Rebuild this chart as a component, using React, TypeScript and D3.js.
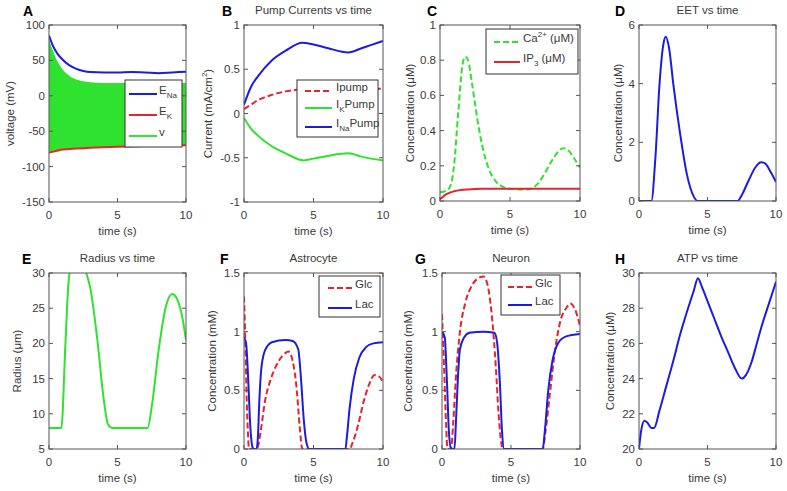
import React from 'react';
import * as d3 from 'd3';

type Pt = [number, number];

// ---------- DATA ----------
const timeTicks = [0, 5, 10];

// A: voltages (mV)
const eNa: Pt[] = [[0,85],[0.3,70],[0.6,60],[1,51],[1.5,43],[2,38],[2.5,35],[3,33.5],[4,33],[5,33],[6,33.5],[7,33],[8,32],[9,33],[10,34]];
const eK: Pt[] = [[0,-80],[0.5,-78],[1,-76],[2,-74.5],[3,-73.5],[5,-72],[7,-71],[10,-70]];
const vTime = [0,0.03,0.3,0.6,1,1.5,2,2.5,3,4,6,8,10];
const vUpper = [80,78,63,49,37,28,23,20.5,19,18,18,18,18];
const vLower = [-100,-78,-77.5,-77,-76,-75,-74.5,-74,-73.5,-72.5,-71.5,-71,-70];

// B: pump currents (mA/cm2)
const iPump: Pt[] = [[0,0.05],[0.5,0.1],[1,0.15],[2,0.21],[3,0.25],[4,0.27],[5,0.28],[7,0.28],[9,0.28],[10,0.28]];
const iKPump: Pt[] = [[0,-0.05],[0.5,-0.17],[1,-0.25],[2,-0.37],[3,-0.45],[4.3,-0.53],[5,-0.51],[6,-0.48],[7.5,-0.45],[8.5,-0.49],[10,-0.53]];
const iNaPump: Pt[] = [[0,0.1],[0.5,0.3],[1,0.42],[2,0.6],[3,0.71],[4.2,0.8],[5,0.78],[6,0.74],[7.5,0.69],[8.5,0.74],[10,0.82]];

// C: Ca2+ and IP3 (uM)
const ca: Pt[] = [[0,0.05],[0.5,0.06],[0.8,0.1],[1,0.2],[1.3,0.5],[1.6,0.77],[1.8,0.82],[2,0.8],[2.3,0.66],[2.7,0.45],[3,0.32],[3.5,0.18],[4,0.11],[4.5,0.08],[5,0.07],[6,0.065],[6.5,0.07],[7,0.1],[7.5,0.16],[8,0.23],[8.5,0.285],[8.8,0.3],[9.2,0.285],[9.6,0.24],[10,0.19]];
const ip3: Pt[] = [[0,0.01],[0.5,0.04],[1,0.055],[1.5,0.063],[2,0.066],[3,0.069],[5,0.07],[10,0.07]];

// D: EET (uM)
const eet: Pt[] = [[0,0],[0.9,0],[1.2,1.5],[1.5,4],[1.8,5.4],[1.95,5.6],[2.2,5.2],[2.5,4],[3,2.3],[3.5,0.9],[4,0.15],[4.3,0],[7.2,0],[7.5,0.2],[8,0.7],[8.5,1.15],[8.9,1.32],[9.2,1.28],[9.6,1],[10,0.65]];

// E: radius (um)
const radius: Pt[] = [[0,8],[0.9,8],[1.2,20],[1.4,28],[1.6,31],[2,32],[2.5,31],[2.8,29.5],[3,28],[3.5,21],[4,12],[4.3,8.5],[4.6,8],[7.2,8],[7.5,11],[8,19],[8.5,25],[9,27],[9.3,26.5],[9.7,24],[10,20.5]];

// F: Astrocyte (mM)
const astroGlc: Pt[] = [[0,1.3],[0.1,0.9],[0.2,0.4],[0.3,0.1],[0.35,0],[0.9,0],[1,0.02],[1.2,0.15],[1.5,0.4],[2,0.62],[2.5,0.75],[3,0.82],[3.2,0.83],[3.5,0.75],[3.8,0.5],[4,0.2],[4.2,0],[7.6,0],[7.8,0.05],[8.2,0.2],[8.6,0.4],[9,0.55],[9.4,0.63],[9.7,0.62],[10,0.57]];
const astroLac: Pt[] = [[0,0.95],[0.15,0.9],[0.3,0.6],[0.45,0.2],[0.6,0.02],[0.7,0],[0.9,0],[1,0.1],[1.1,0.4],[1.2,0.62],[1.4,0.8],[1.7,0.88],[2,0.91],[3,0.93],[3.5,0.92],[3.9,0.85],[4.1,0.6],[4.3,0.25],[4.5,0.05],[4.7,0],[7.3,0],[7.4,0.1],[7.6,0.35],[7.9,0.6],[8.3,0.78],[8.8,0.87],[9.3,0.9],[10,0.91]];

// G: Neuron (mM)
const neuGlc: Pt[] = [[0,1.15],[0.15,0.7],[0.3,0.2],[0.4,0],[0.65,0],[0.8,0.2],[1,0.6],[1.3,1],[1.7,1.25],[2.2,1.4],[2.7,1.46],[3,1.47],[3.3,1.4],[3.6,1.15],[3.9,0.7],[4.1,0.3],[4.3,0.05],[4.4,0],[7.3,0],[7.5,0.15],[7.8,0.45],[8.2,0.85],[8.6,1.1],[9,1.2],[9.3,1.24],[9.6,1.2],[10,1.05]];
const neuLac: Pt[] = [[0,1],[0.2,0.95],[0.35,0.6],[0.5,0.15],[0.65,0],[0.9,0],[1,0.2],[1.15,0.6],[1.3,0.85],[1.6,0.95],[2,0.99],[3,1],[3.8,0.99],[4,0.9],[4.2,0.55],[4.35,0.15],[4.5,0],[7.3,0],[7.45,0.15],[7.7,0.5],[8,0.75],[8.4,0.9],[9,0.96],[10,0.98]];

// H: ATP (uM)
const atp: Pt[] = [[0,20],[0.15,21],[0.4,21.6],[0.6,21.5],[0.9,21.2],[1.1,21.2],[1.5,22.2],[2,23.6],[2.5,25],[3,26.5],[3.5,27.8],[4,29],[4.3,29.7],[4.6,29.2],[5,28.4],[5.5,27.4],[6,26.4],[6.5,25.5],[7,24.6],[7.5,24],[7.8,24.2],[8.2,24.9],[8.6,26],[9,27.1],[9.5,28.3],[10,29.5]];

const ticksA = [-150, -100, -50, 0, 50, 100];
const ticksB = [-1, -0.5, 0, 0.5, 1];
const ticksC = [0, 0.2, 0.4, 0.6, 0.8, 1];
const ticksD = [0, 2, 4, 6];
const ticksE = [5, 10, 15, 20, 25, 30];
const ticksFG = [0, 0.5, 1, 1.5];
const ticksH = [20, 22, 24, 26, 28, 30];

// ---------- STYLE ----------
const FONT = "'Liberation Sans', Arial, Helvetica, sans-serif";
const TXT = '#3a3a3a';
const AX = '#555';
const BLUE = '#1c1ce0';
const RED = '#e8232b';
const GREEN = '#2fe22f';
const LW = 2;

type Seg = { t: string; sub?: boolean; sup?: boolean };
type Series = { data: Pt[]; color: string; dash?: string };
type LegendItem = { label: Seg[]; color: string; dash?: string; y: number };
type Legend = { x0: number; y0: number; x1: number; y1: number; lx0: number; lx1: number; tx: number; items: LegendItem[] };
type PanelCfg = {
  id: string; letterX: number; letterY: number;
  x0: number; x1: number; y0: number; y1: number;
  yDomain: [number, number]; yTicks: number[];
  title?: string; ylabel: Seg[]; ylabelX: number;
  series: Series[]; area?: { t: number[]; lo: number[]; hi: number[]; color: string };
  legend?: Legend;
};

const T = (t: string): Seg => ({ t });

const panels: PanelCfg[] = [
  {
    id: 'A', letterX: 23, letterY: 16, x0: 49, x1: 186, y0: 25, y1: 202,
    yDomain: [-150, 100], yTicks: ticksA, ylabel: [T('voltage (mV)')], ylabelX: 14,
    area: { t: vTime, lo: vLower, hi: vUpper, color: GREEN },
    series: [{ data: eNa, color: BLUE }, { data: eK, color: RED }],
    legend: { x0: 125, y0: 80, x1: 182, y1: 147, lx0: 129, lx1: 157, tx: 159, items: [
      { label: [T('E'), { t: 'Na', sub: true }], color: BLUE, y: 94 },
      { label: [T('E'), { t: 'K', sub: true }], color: RED, y: 115 },
      { label: [T('v')], color: GREEN, y: 136 },
    ] },
  },
  {
    id: 'B', letterX: 222, letterY: 16, x0: 244, x1: 383, y0: 25, y1: 202,
    yDomain: [-1, 1], yTicks: ticksB, title: 'Pump Currents vs time',
    ylabel: [T('Current (mA/cm'), { t: '2', sup: true }, T(')')], ylabelX: 212,
    series: [{ data: iPump, color: RED, dash: '6,3' }, { data: iKPump, color: GREEN }, { data: iNaPump, color: BLUE }],
    legend: { x0: 297, y0: 80, x1: 378, y1: 137, lx0: 305, lx1: 332, tx: 336, items: [
      { label: [T('Ipump')], color: RED, dash: '6,3', y: 91 },
      { label: [T('I'), { t: 'K', sub: true }, T('Pump')], color: GREEN, y: 108 },
      { label: [T('I'), { t: 'Na', sub: true }, T('Pump')], color: BLUE, y: 127 },
    ] },
  },
  {
    id: 'C', letterX: 427, letterY: 16, x0: 440, x1: 580, y0: 25, y1: 201,
    yDomain: [0, 1], yTicks: ticksC, ylabel: [T('Concentration (\u03bcM)')], ylabelX: 414,
    series: [{ data: ca, color: GREEN, dash: '6,3' }, { data: ip3, color: RED }],
    legend: { x0: 486, y0: 29, x1: 578, y1: 74, lx0: 494, lx1: 520, tx: 523, items: [
      { label: [T('Ca'), { t: '2+', sup: true }, T(' (\u03bcM)')], color: GREEN, dash: '6,3', y: 42 },
      { label: [T('IP'), { t: '3', sub: true }, T(' (\u03bcM)')], color: RED, y: 62 },
    ] },
  },
  {
    id: 'D', letterX: 615, letterY: 16, x0: 639, x1: 776, y0: 25, y1: 201,
    yDomain: [0, 6], yTicks: ticksD, title: 'EET vs time', ylabel: [T('Concentration (\u03bcM)')], ylabelX: 622,
    series: [{ data: eet, color: BLUE }],
  },
  {
    id: 'E', letterX: 22, letterY: 264, x0: 49, x1: 186, y0: 273, y1: 449,
    yDomain: [5, 30], yTicks: ticksE, title: 'Radius vs time', ylabel: [T('Radius (\u03bcm)')], ylabelX: 21,
    series: [{ data: radius, color: GREEN }],
  },
  {
    id: 'F', letterX: 220, letterY: 264, x0: 244, x1: 383, y0: 273, y1: 449,
    yDomain: [0, 1.5], yTicks: ticksFG, title: 'Astrocyte', ylabel: [T('Concentration (mM)')], ylabelX: 216,
    series: [{ data: astroGlc, color: RED, dash: '6,3' }, { data: astroLac, color: BLUE }],
    legend: { x0: 319, y0: 276, x1: 380, y1: 317, lx0: 328, lx1: 352, tx: 355, items: [
      { label: [T('Glc')], color: RED, dash: '6,3', y: 288 },
      { label: [T('Lac')], color: BLUE, y: 308 },
    ] },
  },
  {
    id: 'G', letterX: 415, letterY: 264, x0: 442, x1: 580, y0: 273, y1: 449,
    yDomain: [0, 1.5], yTicks: ticksFG, title: 'Neuron', ylabel: [T('Concentration (mM)')], ylabelX: 412,
    series: [{ data: neuGlc, color: RED, dash: '6,3' }, { data: neuLac, color: BLUE }],
    legend: { x0: 501, y0: 275, x1: 560, y1: 315, lx0: 508, lx1: 532, tx: 535, items: [
      { label: [T('Glc')], color: RED, dash: '6,3', y: 287 },
      { label: [T('Lac')], color: BLUE, y: 305 },
    ] },
  },
  {
    id: 'H', letterX: 615, letterY: 264, x0: 639, x1: 776, y0: 273, y1: 449,
    yDomain: [20, 30], yTicks: ticksH, title: 'ATP vs time', ylabel: [T('Concentration (\u03bcM)')], ylabelX: 614,
    series: [{ data: atp, color: BLUE }],
  },
];

function Segs({ segs }: { segs: Seg[] }) {
  const out: React.ReactNode[] = [];
  segs.forEach((s, i) => {
    if (s.sub) {
      out.push(<tspan key={i} fontSize="8" dy={4}>{s.t}</tspan>);
    } else if (s.sup) {
      out.push(<tspan key={i} fontSize="8" dy={-5}>{s.t}</tspan>);
    } else {
      const prev = segs[i - 1];
      const dy = prev && prev.sub ? -4 : prev && prev.sup ? 5 : 0;
      out.push(<tspan key={i} dy={dy}>{s.t}</tspan>);
    }
  });
  return <>{out}</>;
}

function Panel({ p }: { p: PanelCfg }) {
  const x = d3.scaleLinear().domain([0, 10]).range([p.x0, p.x1]);
  const y = d3.scaleLinear().domain(p.yDomain).range([p.y1, p.y0]);
  const line = d3.line<Pt>().x(d => x(d[0])).y(d => y(d[1])).curve(d3.curveMonotoneX);
  const clipId = `clip-${p.id}`;
  const fmt = (v: number) => String(v);
  let areaPath: string | null = null;
  if (p.area) {
    const a = p.area;
    const idx = a.t.map((_, i) => i);
    areaPath = d3.area<number>().x(i => x(a.t[i])).y0(i => y(a.lo[i])).y1(i => y(a.hi[i])).curve(d3.curveMonotoneX)(idx);
  }
  const cy = (p.y0 + p.y1) / 2;
  const tl = 4;
  return (
    <g fontFamily={FONT}>
      <defs>
        <clipPath id={clipId}><rect x={p.x0} y={p.y0} width={p.x1 - p.x0} height={p.y1 - p.y0} /></clipPath>
      </defs>
      <rect x={p.x0} y={p.y0} width={p.x1 - p.x0} height={p.y1 - p.y0} fill="#fff" />
      <g clipPath={`url(#${clipId})`}>
        {areaPath && <path d={areaPath} fill={p.area!.color} stroke="none" />}
        {p.series.map((s, i) => (
          <path key={i} d={line(s.data) || ''} fill="none" stroke={s.color} strokeWidth={LW} strokeDasharray={s.dash} />
        ))}
      </g>
      {p.yTicks.map(t => (
        <g key={'y' + t}>
          <line x1={p.x0} x2={p.x0 + tl} y1={y(t)} y2={y(t)} stroke={AX} />
          <line x1={p.x1} x2={p.x1 - tl} y1={y(t)} y2={y(t)} stroke={AX} />
          <text x={p.x0 - 4} y={y(t)} dy="0.35em" textAnchor="end" fontSize="11.5" fill={TXT}>{fmt(t)}</text>
        </g>
      ))}
      {timeTicks.map(t => (
        <g key={'x' + t}>
          <line x1={x(t)} x2={x(t)} y1={p.y1} y2={p.y1 - tl} stroke={AX} />
          <line x1={x(t)} x2={x(t)} y1={p.y0} y2={p.y0 + tl} stroke={AX} />
          <text x={x(t)} y={p.y1 + 17} textAnchor="middle" fontSize="11.5" fill={TXT}>{t}</text>
        </g>
      ))}
      <rect x={p.x0} y={p.y0} width={p.x1 - p.x0} height={p.y1 - p.y0} fill="none" stroke={AX} strokeWidth={1} />
      <text x={(p.x0 + p.x1) / 2} y={p.y1 + 33} textAnchor="middle" fontSize="11.5" fill={TXT}>time (s)</text>
      <text transform={`translate(${p.ylabelX},${cy}) rotate(-90)`} textAnchor="middle" fontSize="11.5" fill={TXT}><Segs segs={p.ylabel} /></text>
      {p.title && <text x={(p.x0 + p.x1) / 2} y={p.y0 - 11} textAnchor="middle" fontSize="11.5" fill={TXT}>{p.title}</text>}
      <text x={p.letterX} y={p.letterY} fontSize="14" fontWeight="bold" fill="#000">{p.id}</text>
      {p.legend && (
        <g>
          <rect x={p.legend.x0} y={p.legend.y0} width={p.legend.x1 - p.legend.x0} height={p.legend.y1 - p.legend.y0} fill="#fff" stroke="#333" strokeWidth={1} />
          {p.legend.items.map((it, i) => (
            <g key={i}>
              <line x1={p.legend!.lx0} x2={p.legend!.lx1} y1={it.y} y2={it.y} stroke={it.color} strokeWidth={LW} strokeDasharray={it.dash} />
              <text x={p.legend!.tx} y={it.y} dy="0.35em" fontSize="11.5" fill={TXT}><Segs segs={it.label} /></text>
            </g>
          ))}
        </g>
      )}
    </g>
  );
}

export default function App() {
  return (
    <svg width={787} height={491} style={{ position: 'absolute', left: 0, top: 0, background: '#fff' }}>
      <rect width={787} height={491} fill="#fff" />
      {panels.map(p => <Panel key={p.id} p={p} />)}
    </svg>
  );
}
